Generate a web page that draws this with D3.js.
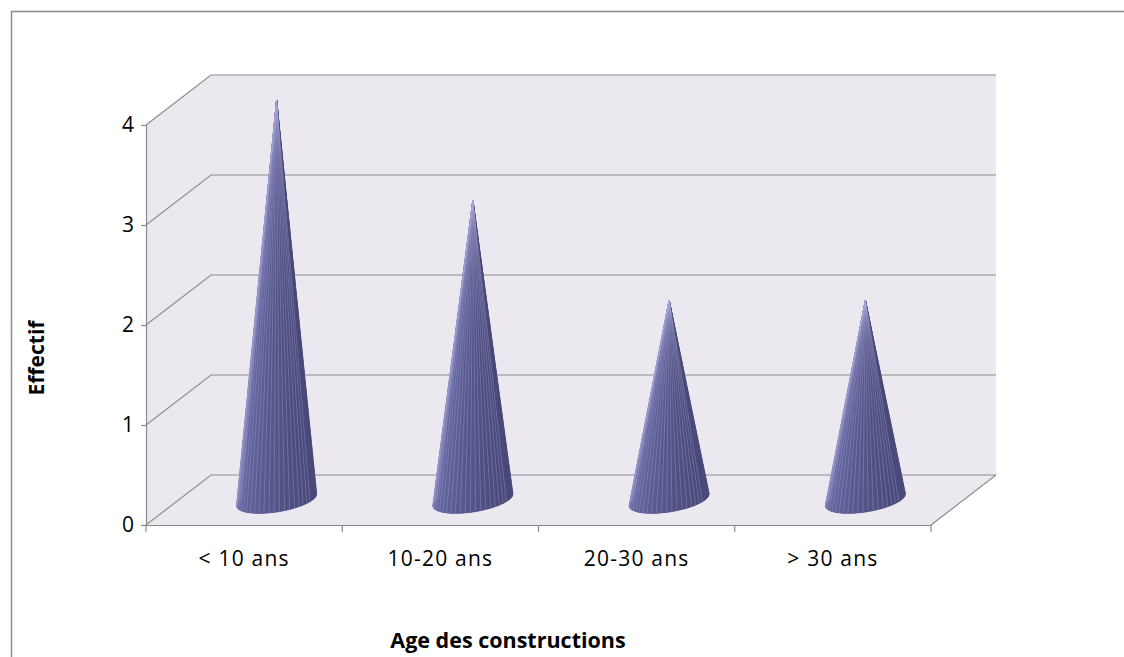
<!DOCTYPE html>
<html>
<head>
<meta charset="utf-8">
<script src="https://cdn.jsdelivr.net/npm/d3@7"></script>
<style>
  html, body { margin: 0; padding: 0; background: #fff; }
  svg { display: block; }
  text { font-family: "Open Sans", "Liberation Sans", sans-serif; fill: #000; }
</style>
</head>
<body>
<svg id="chart" width="1124" height="657"></svg>
<script>
// Data
const categories = ["< 10 ans", "10-20 ans", "20-30 ans", "> 30 ans"];
const values = [4, 3, 2, 2];
const yTicks = [0, 1, 2, 3, 4];
const xTitle = "Age des constructions";
const yTitle = "Effectif";

const svg = d3.select("#chart");
const W = 1124, H = 657;

// Chart frame
svg.append("rect")
  .attr("x", 11.5).attr("y", 11.5)
  .attr("width", W + 20).attr("height", H + 20)
  .attr("fill", "#fff").attr("stroke", "#8c8c8c").attr("stroke-width", 1.5);

// Front plane scales
const x = d3.scaleBand().domain(categories).range([146, 931]).paddingInner(0).paddingOuter(0);
const y = d3.scaleLinear().domain([0, 4]).range([525, 125]);

// Oblique depth vector (front -> back)
const DX = 65, DY = -50;

const wallFill = "#ebe9ef";
const gridColor = "#8e8e8e";

const x0 = x.range()[0], x1 = x.range()[1];
const yMin = y(0), yMax = y(4);

// Side wall
svg.append("polygon")
  .attr("points", [[x0, yMax], [x0 + DX, yMax + DY], [x0 + DX, yMin + DY], [x0, yMin]].map(p => p.join(",")).join(" "))
  .attr("fill", wallFill);
// Back wall
svg.append("polygon")
  .attr("points", [[x0 + DX, yMax + DY], [x1 + DX, yMax + DY], [x1 + DX, yMin + DY], [x0 + DX, yMin + DY]].map(p => p.join(",")).join(" "))
  .attr("fill", wallFill);
// Floor
svg.append("polygon")
  .attr("points", [[x0, yMin], [x0 + DX, yMin + DY], [x1 + DX, yMin + DY], [x1, yMin]].map(p => p.join(",")).join(" "))
  .attr("fill", wallFill);

// Gridlines: on side wall and back wall
const grid = svg.append("g").attr("stroke", gridColor).attr("stroke-width", 1.2).attr("fill", "none");
yTicks.forEach(v => {
  const yy = y(v);
  grid.append("path")
    .attr("d", `M${x0},${yy}L${x0 + DX},${yy + DY}L${x1 + DX},${yy + DY}`);
});
// Floor right edge
grid.append("path").attr("d", `M${x1},${yMin}L${x1 + DX},${yMin + DY}`);

// Axes
const axisColor = "#8a8a8a";
const labelFont = 21;
const yAxis = d3.axisLeft(y).tickValues(yTicks).tickFormat(d3.format("d")).tickSize(5).tickPadding(7);
const gy = svg.append("g").attr("transform", `translate(${x0},0)`).call(yAxis);
gy.select(".domain").attr("stroke", axisColor).attr("stroke-width", 1.2);
gy.selectAll(".tick line").attr("stroke", axisColor).attr("stroke-width", 1.2);
gy.selectAll(".tick text").attr("font-size", labelFont).attr("font-family", "Open Sans, sans-serif").attr("fill", "#000");

const xAxis = d3.axisBottom(x).tickSize(0).tickPadding(26);
const gx = svg.append("g").attr("transform", `translate(0,${yMin})`).call(xAxis);
gx.select(".domain").attr("stroke", axisColor).attr("stroke-width", 1.2);
gx.selectAll(".tick text")
  .attr("font-size", labelFont).attr("letter-spacing", 1.2)
  .attr("font-family", "Open Sans, sans-serif").attr("fill", "#000");
// Category separator ticks
const sepX = categories.map(c => x(c)).concat([x1]);
gx.selectAll(".sep").data(sepX).enter().append("line")
  .attr("x1", d => d).attr("x2", d => d).attr("y1", 0).attr("y2", 7)
  .attr("stroke", axisColor).attr("stroke-width", 1.2);

// Cones
const N = 48;          // facets around the cone
const rx = 36;         // base radius across
const rd = 0.27;       // base radius in depth (fraction of depth vector)
const light = d3.color("#6d6dab"), dark = d3.color("#4a4a7a");
const shade = d3.interpolateRgb(light, dark);

const cones = svg.append("g");
categories.forEach((c, i) => {
  const cx = x(c) + x.bandwidth() / 2 + DX / 2;
  const cy = y(0) + DY / 2;
  const apex = [cx, y(values[i]) + DY / 2];
  const pt = t => [cx + rx * Math.cos(t) + rd * DX * Math.sin(t), cy + rd * DY * Math.sin(t)];
  const facets = d3.range(N).map(k => {
    const t0 = 2 * Math.PI * k / N, t1 = 2 * Math.PI * (k + 1) / N;
    const tm = (t0 + t1) / 2;
    return { t0, t1, depth: Math.sin(tm), c: Math.cos(tm) };
  }).sort((a, b) => b.depth - a.depth);
  const g = cones.append("g");
  // base ellipse
  g.append("path")
    .attr("d", d3.line()(d3.range(73).map(k => pt(2 * Math.PI * k / 72))) + "Z")
    .attr("fill", "#55558a");
  facets.forEach(f => {
    const a = pt(f.t0), b = pt(f.t1);
    // lighter on the left side, darker on the right
    const s = (1 - f.c) / 2;
    const col = shade(1 - s);
    g.append("path")
      .attr("d", `M${apex[0]},${apex[1]}L${a[0]},${a[1]}L${b[0]},${b[1]}Z`)
      .attr("fill", col)
      .attr("stroke", col)
      .attr("stroke-width", 0.4);
  });
  // faint facet edges on the visible side
  facets.filter(f => f.depth < 0).forEach(f => {
    const a = pt(f.t0);
    g.append("line")
      .attr("x1", apex[0]).attr("y1", apex[1])
      .attr("x2", a[0]).attr("y2", a[1])
      .attr("stroke", "#a9a9d6").attr("stroke-opacity", 0.5).attr("stroke-width", 0.7);
  });
});

// Axis titles
svg.append("text")
  .attr("x", 508).attr("y", 648)
  .attr("text-anchor", "middle")
  .attr("font-size", 21.5).attr("font-weight", "bold")
  .text(xTitle);
svg.append("text")
  .attr("transform", "translate(44,358) rotate(-90)")
  .attr("text-anchor", "middle")
  .attr("font-size", 21).attr("font-weight", "bold")
  .text(yTitle);
</script>
</body>
</html>
